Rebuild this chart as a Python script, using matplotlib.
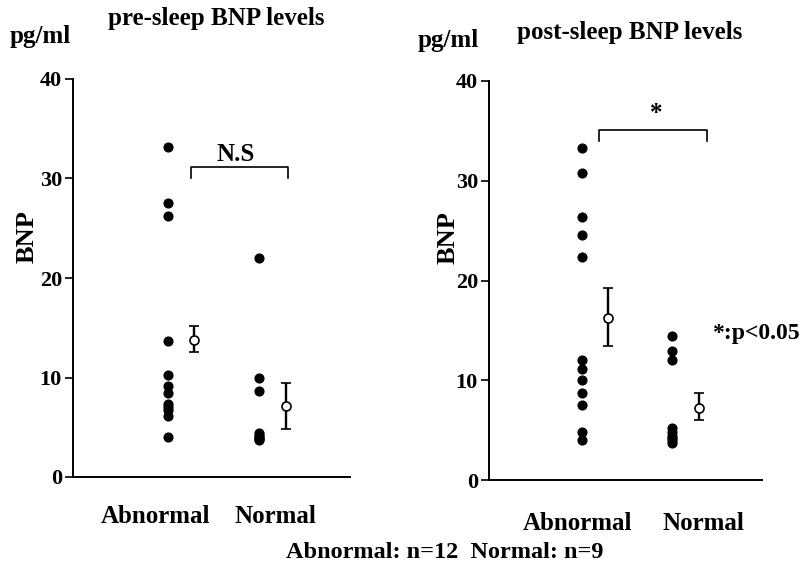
import matplotlib
matplotlib.use("Agg")
import matplotlib.pyplot as plt

plt.rcParams['font.family'] = 'Liberation Serif'
plt.rcParams['font.weight'] = 'bold'

groups = ["Abnormal", "Normal"]

# pre-sleep BNP (pg/ml)
pre_abnormal = [33.2, 27.5, 26.2, 13.7, 10.3, 9.1, 8.4, 7.3, 7.0, 6.7, 6.1, 4.0]
pre_normal = [22.0, 10.0, 8.6, 4.4, 4.2, 4.0, 3.9, 3.8, 3.7]
pre_means = [13.8, 7.1]
pre_err_low = [1.2, 2.3]
pre_err_high = [1.4, 2.3]

# post-sleep BNP (pg/ml)
post_abnormal = [33.3, 30.8, 26.4, 24.6, 22.4, 12.0, 11.1, 10.0, 8.7, 7.5, 4.8, 4.0]
post_normal = [14.4, 12.9, 12.0, 5.2, 4.8, 4.4, 4.2, 4.0, 3.7]
post_means = [16.2, 7.2]
post_err_low = [2.8, 1.2]
post_err_high = [3.0, 1.5]

yticks = [0, 10, 20, 30, 40]

W, H = 808, 567
fig = plt.figure(figsize=(W / 100, H / 100), dpi=100)


def px_axes(x0, x1, y0, y1):
    # pixel box -> figure fraction (y0 = pixel of value 0, y1 = pixel of value 40)
    return fig.add_axes([x0 / W, (H - y0) / H, (x1 - x0) / W, (y0 - y1) / H])


def panel(ax, abn, nor, means, elo, ehi, lab_x, lab_pad):
    ax.plot([1] * len(abn), abn, 'o', color='black', ms=6.3)
    ax.plot([2] * len(nor), nor, 'o', color='black', ms=6.3)
    ax.errorbar([1.29, 2.3], means, yerr=[elo, ehi], fmt='o', mfc='white',
                mec='black', ecolor='black', ms=6.5, mew=1.2, elinewidth=1.7,
                capsize=3.8, capthick=1.7)
    ax.set_xlim(-0.04, 3.0)
    ax.set_ylim(0, 40)
    ax.set_yticks(yticks)
    ax.set_xticks(lab_x)
    ax.set_xticklabels(groups, fontsize=18, fontweight='bold')
    ax.tick_params(axis='x', length=0, pad=lab_pad)
    ax.tick_params(axis='y', length=6, width=1.2, labelsize=16, pad=2)
    for s in ['top', 'right']:
        ax.spines[s].set_visible(False)
    for s in ['left', 'bottom']:
        ax.spines[s].set_linewidth(1.4)
    for lbl in ax.get_yticklabels():
        lbl.set_fontweight('bold')


ax1 = px_axes(73, 350, 477, 79)
panel(ax1, pre_abnormal, pre_normal, pre_means, pre_err_low, pre_err_high,
      [0.86, 2.18], 20)
ax1.plot([1.25, 1.25, 2.32, 2.32], [30.0, 31.2, 31.2, 30.0], color='black', lw=1.2)
ax1.text(1.74, 31.3, "N.S", ha='center', va='bottom', fontsize=18, fontweight='bold')

ax2 = px_axes(489, 762, 480, 81)
panel(ax2, post_abnormal, post_normal, post_means, post_err_low, post_err_high,
      [0.95, 2.35], 23)
ax2.plot([1.19, 1.19, 2.39, 2.39], [34.0, 35.1, 35.1, 34.0], color='black', lw=1.2)
ax2.text(1.82, 35.6, "*", ha='center', va='bottom', fontsize=18, fontweight='bold')

fig.text(216 / W, 1 - 19 / H, "pre-sleep BNP levels", ha='center', va='center',
         fontsize=18, fontweight='bold')
fig.text(630 / W, 1 - 32 / H, "post-sleep BNP levels", ha='center', va='center',
         fontsize=18, fontweight='bold')
fig.text(10 / W, 1 - 37 / H, "pg/ml", ha='left', va='center', fontsize=18, fontweight='bold')
fig.text(418 / W, 1 - 41 / H, "pg/ml", ha='left', va='center', fontsize=18, fontweight='bold')
fig.text(27 / W, 1 - 237 / H, "BNP", rotation=90, ha='center', va='center',
         fontsize=19, fontweight='bold')
fig.text(448 / W, 1 - 238 / H, "BNP", rotation=90, ha='center', va='center',
         fontsize=19, fontweight='bold')
fig.text(712 / W, 1 - 333 / H, "*:p<0.05", ha='left', va='center', fontsize=17,
         fontweight='bold')
fig.text(445 / W, 1 - 553 / H, "Abnormal: n=12  Normal: n=9", ha='center', va='center',
         fontsize=17.5, fontweight='bold')

fig.savefig("out.png", dpi=100)
